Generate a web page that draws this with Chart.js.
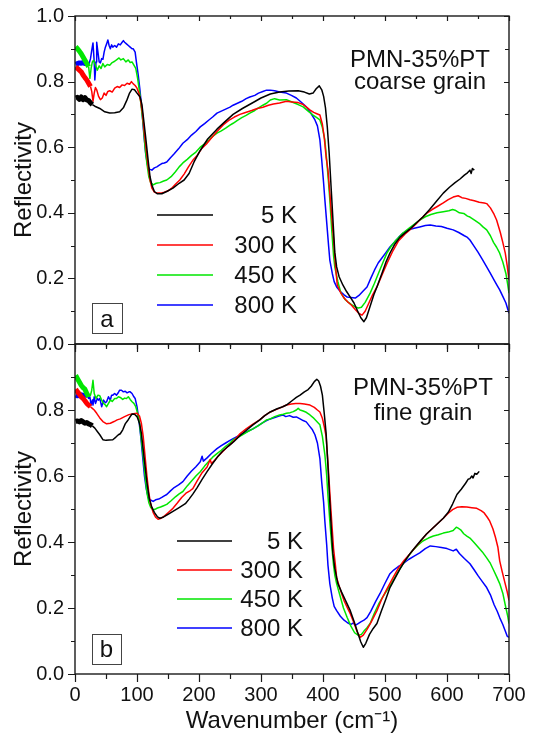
<!DOCTYPE html>
<html>
<head>
<meta charset="utf-8">
<script src="https://cdn.jsdelivr.net/npm/chart.js@4.4.1/dist/chart.umd.min.js"></script>
<style>
  html, body { margin: 0; padding: 0; background: #fff; }
  #wrap { position: relative; width: 540px; height: 743px; }
  #wrap canvas { position: absolute; left: 0; top: 0; }
</style>
</head>
<body>
<div id="wrap">
  <canvas id="coarse" width="540" height="743"></canvas>
  <canvas id="fine" width="540" height="743"></canvas>
</div>
<script>
// axis ticks
const xTicks = [0, 100, 200, 300, 400, 500, 600, 700];
const yTicks = [0, 0.2, 0.4, 0.6, 0.8, 1.0];
const seriesLabels = ['5 K', '300 K', '450 K', '800 K'];
const seriesColors = ['#000000', '#ff0000', '#00e600', '#0000ff'];
// wavenumber below which the trace is a dense noisy band
const headEnd = [28, 25, 22, 19];

// panel a: coarse grain, [wavenumber, reflectivity]
const coarse5K = [[1,0.75],[4,0.752],[7,0.746],[10,0.753],[13,0.745],[16,0.751],[19,0.744],[22,0.742],[25,0.735],[28,0.73],
  [32,0.725],[40,0.718],[48,0.708],[56,0.704],[64,0.705],[72,0.708],[78,0.72],[84,0.745],[88,0.765],[92,0.777],[96,0.775],
  [100,0.765],[105,0.753],[108,0.73],[111,0.68],[114,0.63],[118,0.56],[121,0.51],[124,0.485],[128,0.465],[133,0.458],[140,0.458],
  [148,0.465],[158,0.475],[168,0.49],[176,0.5],[184,0.52],[192,0.555],[202,0.59],[214,0.625],[229,0.655],[242,0.678],[255,0.7],
  [270,0.718],[288,0.737],[300,0.75],[315,0.762],[330,0.768],[345,0.771],[360,0.772],[370,0.768],[378,0.762],[384,0.765],
  [389,0.778],[394,0.787],[398,0.775],[401,0.755],[404,0.72],[407,0.66],[410,0.58],[413,0.48],[416,0.38],[419,0.28],[422,0.235],
  [426,0.205],[432,0.18],[438,0.16],[444,0.143],[450,0.125],[456,0.1],[461,0.08],[466,0.068],[470,0.08],[476,0.115],[482,0.15],
  [487,0.174],[495,0.215],[502,0.252],[508,0.277],[516,0.305],[524,0.325],[532,0.338],[540,0.35],[550,0.368],[561,0.387],
  [572,0.41],[583,0.435],[594,0.46],[604,0.478],[613,0.492],[621,0.503],[628,0.515],[633,0.522],[637,0.53],[639,0.52],[641,0.535],[644,0.53]];
const coarse300K = [[1,0.845],[4,0.84],[7,0.835],[10,0.83],[13,0.82],[16,0.812],[19,0.805],[22,0.795],[25,0.785],
  [27,0.77],[29,0.74],[31,0.765],[33,0.782],[35,0.775],[38,0.755],[41,0.745],[44,0.75],[47,0.765],[50,0.758],[53,0.77],[56,0.772],
  [60,0.768],[64,0.78],[68,0.785],[72,0.782],[76,0.79],[80,0.788],[84,0.795],[88,0.792],[91,0.8],[94,0.793],[97,0.788],[100,0.78],
  [103,0.765],[106,0.74],[109,0.7],[112,0.64],[115,0.59],[118,0.54],[121,0.5],[124,0.475],[128,0.463],[132,0.46],[138,0.46],
  [144,0.463],[150,0.467],[156,0.475],[162,0.487],[169,0.5],[176,0.518],[183,0.54],[190,0.56],[197,0.575],[204,0.595],[212,0.61],
  [220,0.628],[229,0.648],[239,0.668],[248,0.682],[257,0.692],[266,0.7],[275,0.706],[285,0.712],[294,0.718],[303,0.722],[312,0.728],
  [320,0.732],[330,0.735],[341,0.74],[350,0.738],[360,0.736],[368,0.73],[375,0.72],[380,0.712],[385,0.706],[390,0.702],[395,0.698],
  [399,0.67],[402,0.63],[405,0.57],[408,0.53],[411,0.46],[414,0.39],[417,0.32],[420,0.24],[423,0.18],[428,0.158],[434,0.14],
  [440,0.128],[446,0.118],[452,0.105],[458,0.093],[463,0.088],[468,0.1],[474,0.125],[480,0.15],[487,0.174],[495,0.21],[503,0.245],
  [513,0.285],[522,0.315],[532,0.335],[540,0.348],[550,0.366],[558,0.382],[567,0.398],[576,0.41],[585,0.42],[594,0.43],[602,0.44],
  [610,0.448],[618,0.452],[624,0.446],[630,0.444],[637,0.44],[644,0.437],[652,0.432],[660,0.43],[664,0.428],[670,0.415],[676,0.395],
  [680,0.378],[686,0.34],[690,0.31],[694,0.277],[697,0.24],[700,0.195]];
const coarse450K = [[1,0.906],[4,0.9],[7,0.893],[10,0.885],[13,0.875],[16,0.865],[19,0.855],[22,0.845],
  [24,0.81],[26,0.84],[28,0.86],[30,0.865],[33,0.85],[36,0.835],[39,0.848],[42,0.84],[45,0.855],[48,0.845],[52,0.852],[56,0.85],
  [60,0.858],[64,0.862],[68,0.868],[71,0.872],[74,0.866],[78,0.87],[82,0.86],[86,0.866],[89,0.858],[92,0.86],[95,0.85],[98,0.84],
  [101,0.81],[104,0.77],[107,0.72],[110,0.67],[113,0.6],[116,0.55],[119,0.51],[122,0.492],[126,0.485],[131,0.49],[137,0.492],
  [143,0.497],[148,0.5],[155,0.51],[162,0.525],[168,0.54],[174,0.552],[181,0.563],[188,0.575],[195,0.585],[202,0.6],[209,0.61],
  [216,0.622],[222,0.633],[229,0.643],[236,0.65],[243,0.658],[250,0.667],[255,0.673],[262,0.682],[269,0.69],[276,0.697],[282,0.704],
  [290,0.712],[296,0.72],[303,0.728],[309,0.734],[315,0.744],[322,0.748],[330,0.744],[341,0.745],[350,0.738],[360,0.73],[368,0.723],
  [376,0.71],[384,0.698],[390,0.69],[395,0.683],[399,0.66],[403,0.622],[406,0.56],[409,0.49],[411,0.44],[414,0.35],[417,0.27],
  [419,0.235],[424,0.19],[429,0.155],[436,0.135],[441,0.127],[446,0.12],[452,0.113],[457,0.11],[462,0.112],[468,0.127],[476,0.155],
  [483,0.185],[490,0.218],[497,0.25],[503,0.277],[510,0.298],[518,0.317],[529,0.338],[538,0.352],[547,0.365],[556,0.378],[565,0.388],
  [574,0.395],[584,0.4],[594,0.403],[603,0.406],[609,0.41],[613,0.408],[620,0.4],[627,0.398],[633,0.39],[637,0.387],[645,0.377],
  [652,0.368],[658,0.357],[664,0.348],[670,0.33],[675,0.31],[680,0.295],[685,0.277],[690,0.25],[695,0.215],[698,0.18],[700,0.155]];
const coarse800K = [[1,0.852],[4,0.855],[7,0.857],[10,0.856],[13,0.858],[16,0.855],[19,0.86],
  [22,0.85],[25,0.87],[27,0.895],[29,0.918],[31,0.86],[32,0.805],[34,0.86],[35,0.92],[37,0.89],[39,0.86],[41,0.857],[43,0.87],
  [45,0.868],[47,0.89],[49,0.905],[51,0.915],[53,0.927],[55,0.91],[57,0.9],[59,0.912],[61,0.905],[64,0.91],[67,0.905],[70,0.915],
  [73,0.912],[76,0.92],[78,0.925],[80,0.92],[83,0.915],[86,0.91],[89,0.905],[92,0.9],[94,0.9],[97,0.89],[99,0.86],[102,0.82],
  [105,0.77],[108,0.71],[111,0.64],[114,0.58],[117,0.545],[120,0.533],[124,0.53],[128,0.537],[132,0.54],[136,0.545],[140,0.55],
  [144,0.552],[148,0.555],[154,0.568],[160,0.58],[167,0.595],[174,0.612],[181,0.623],[188,0.637],[195,0.648],[202,0.662],[209,0.672],
  [216,0.683],[222,0.692],[229,0.704],[236,0.71],[243,0.716],[250,0.722],[255,0.728],[262,0.734],[269,0.74],[276,0.748],[282,0.753],
  [290,0.758],[296,0.765],[303,0.77],[309,0.774],[315,0.774],[322,0.772],[330,0.768],[341,0.765],[349,0.758],[357,0.75],[365,0.737],
  [373,0.723],[380,0.705],[387,0.683],[391,0.665],[395,0.622],[398,0.56],[401,0.49],[403,0.44],[406,0.37],[409,0.3],[411,0.256],
  [415,0.215],[418,0.19],[422,0.174],[428,0.16],[434,0.15],[439,0.143],[445,0.142],[452,0.14],[458,0.148],[464,0.16],[471,0.174],
  [477,0.2],[483,0.225],[489,0.247],[495,0.262],[502,0.28],[508,0.296],[515,0.31],[522,0.325],[529,0.338],[538,0.348],[547,0.353],
  [556,0.357],[565,0.361],[573,0.363],[582,0.36],[591,0.358],[600,0.353],[610,0.348],[619,0.34],[628,0.33],[633,0.325],[637,0.317],
  [643,0.3],[650,0.28],[657,0.258],[664,0.235],[670,0.215],[676,0.195],[681,0.178],[685,0.165],[690,0.145],[695,0.125],[700,0.094]];

// panel b: fine grain
const fine5K = [[1,0.765],[4,0.767],[7,0.764],[10,0.768],[13,0.764],[16,0.76],[19,0.762],[22,0.758],[25,0.756],[28,0.752],
  [32,0.745],[36,0.735],[40,0.725],[45,0.71],[50,0.708],[55,0.709],[61,0.71],[66,0.718],[70,0.725],[73,0.728],[77,0.74],[81,0.758],
  [85,0.768],[89,0.78],[92,0.788],[96,0.787],[100,0.78],[104,0.76],[107,0.73],[110,0.68],[113,0.63],[116,0.58],[120,0.53],[124,0.505],
  [128,0.49],[133,0.476],[137,0.472],[143,0.476],[150,0.484],[158,0.493],[166,0.502],[173,0.51],[178,0.516],[184,0.53],[190,0.545],
  [197,0.565],[205,0.59],[213,0.613],[222,0.638],[230,0.658],[238,0.675],[247,0.69],[256,0.704],[266,0.722],[276,0.738],[287,0.755],
  [298,0.77],[306,0.783],[315,0.794],[325,0.803],[335,0.81],[341,0.815],[350,0.828],[357,0.838],[363,0.845],[370,0.855],[376,0.862],
  [381,0.872],[386,0.886],[390,0.893],[393,0.888],[396,0.872],[399,0.845],[402,0.79],[405,0.73],[408,0.63],[411,0.52],[414,0.42],
  [416,0.364],[419,0.32],[424,0.274],[430,0.248],[437,0.22],[444,0.192],[450,0.16],[456,0.125],[461,0.097],[465,0.081],[469,0.093],
  [475,0.12],[481,0.138],[487,0.153],[494,0.19],[501,0.225],[508,0.262],[516,0.29],[524,0.318],[532,0.342],[540,0.364],[549,0.385],
  [558,0.405],[567,0.424],[576,0.44],[585,0.456],[594,0.472],[602,0.49],[609,0.515],[616,0.544],[623,0.56],[630,0.578],[634,0.59],
  [637,0.592],[640,0.6],[642,0.594],[645,0.608],[648,0.605],[652,0.614]];
const fine300K = [[1,0.863],[4,0.855],[7,0.848],[10,0.84],[13,0.835],[16,0.828],[19,0.82],[22,0.815],[25,0.81],
  [28,0.805],[31,0.8],[35,0.79],[40,0.776],[45,0.765],[51,0.758],[57,0.76],[63,0.765],[68,0.77],[73,0.773],[80,0.78],[87,0.786],
  [94,0.789],[100,0.79],[104,0.782],[107,0.76],[110,0.72],[113,0.66],[116,0.6],[119,0.55],[122,0.515],[126,0.49],[130,0.475],
  [134,0.469],[139,0.472],[145,0.48],[151,0.49],[158,0.502],[165,0.518],[172,0.535],[179,0.548],[186,0.556],[190,0.562],[197,0.585],
  [205,0.61],[213,0.627],[218,0.65],[220,0.638],[224,0.645],[230,0.658],[236,0.67],[244,0.685],[252,0.698],[259,0.712],[266,0.728],
  [276,0.743],[287,0.757],[298,0.77],[306,0.783],[315,0.794],[325,0.802],[333,0.808],[341,0.815],[349,0.818],[356,0.82],[363,0.82],
  [370,0.818],[379,0.815],[386,0.808],[391,0.8],[395,0.794],[399,0.775],[402,0.75],[405,0.72],[408,0.64],[411,0.55],[414,0.463],
  [417,0.38],[420,0.33],[422,0.292],[428,0.255],[434,0.222],[440,0.198],[444,0.183],[450,0.155],[455,0.128],[460,0.111],[465,0.118],
  [471,0.135],[477,0.155],[487,0.192],[495,0.228],[503,0.257],[513,0.292],[522,0.322],[531,0.345],[540,0.364],[549,0.384],[558,0.404],
  [567,0.424],[576,0.44],[585,0.456],[594,0.472],[602,0.487],[609,0.498],[616,0.505],[624,0.507],[632,0.506],[640,0.504],[648,0.502],
  [655,0.495],[660,0.488],[665,0.475],[669,0.463],[674,0.44],[678,0.415],[682,0.385],[685,0.343],[689,0.31],[693,0.28],[697,0.25],[700,0.223]];
const fine450K = [[1,0.905],[4,0.895],[7,0.885],[10,0.875],[13,0.868],[16,0.863],
  [19,0.85],[22,0.84],[25,0.845],[27,0.86],[29,0.89],[31,0.85],[34,0.835],[37,0.845],[40,0.843],[43,0.83],[46,0.82],[49,0.815],
  [51,0.81],[54,0.82],[57,0.83],[60,0.826],[64,0.835],[67,0.835],[70,0.84],[73,0.838],[77,0.832],[80,0.836],[83,0.835],[86,0.84],
  [89,0.832],[92,0.825],[95,0.82],[98,0.81],[101,0.79],[104,0.76],[107,0.71],[110,0.66],[113,0.6],[116,0.55],[119,0.52],[122,0.505],
  [126,0.498],[129,0.499],[133,0.503],[138,0.506],[143,0.51],[148,0.514],[155,0.525],[162,0.537],[168,0.546],[174,0.553],[181,0.57],
  [188,0.585],[195,0.6],[202,0.613],[209,0.63],[216,0.645],[222,0.657],[229,0.668],[236,0.678],[243,0.69],[250,0.7],[255,0.71],
  [262,0.716],[270,0.725],[278,0.734],[287,0.743],[295,0.752],[303,0.762],[309,0.77],[315,0.773],[322,0.78],[330,0.785],[336,0.787],
  [341,0.79],[347,0.792],[352,0.795],[357,0.8],[360,0.805],[363,0.8],[368,0.797],[373,0.793],[379,0.785],[384,0.777],[390,0.765],
  [395,0.755],[399,0.72],[403,0.665],[406,0.6],[408,0.54],[411,0.463],[414,0.39],[417,0.33],[419,0.3],[422,0.274],[427,0.24],
  [433,0.2],[439,0.171],[445,0.145],[451,0.125],[457,0.117],[462,0.12],[466,0.13],[471,0.14],[476,0.153],[483,0.185],[490,0.213],
  [497,0.235],[503,0.253],[510,0.273],[518,0.3],[529,0.334],[537,0.355],[545,0.375],[553,0.39],[561,0.403],[570,0.412],[578,0.418],
  [586,0.422],[594,0.427],[602,0.43],[610,0.435],[615,0.445],[618,0.442],[622,0.437],[627,0.425],[632,0.418],[637,0.412],[644,0.398],
  [650,0.385],[657,0.37],[664,0.352],[670,0.335],[675,0.315],[680,0.295],[685,0.274],[690,0.245],[695,0.2],[698,0.175],[700,0.153]];
const fine800K = [[1,0.845],[4,0.843],[7,0.845],[10,0.846],[13,0.844],[16,0.845],[19,0.845],
  [22,0.835],[24,0.84],[26,0.815],[28,0.83],[29,0.815],[31,0.84],[33,0.82],[36,0.835],[38,0.83],[40,0.835],[43,0.81],[46,0.83],
  [49,0.822],[51,0.825],[54,0.84],[57,0.83],[59,0.845],[61,0.845],[64,0.85],[67,0.845],[70,0.853],[72,0.86],[75,0.86],[78,0.855],
  [81,0.857],[84,0.852],[87,0.855],[89,0.855],[92,0.85],[95,0.84],[97,0.835],[100,0.81],[103,0.77],[106,0.72],[109,0.66],[112,0.6],
  [115,0.56],[118,0.535],[121,0.528],[126,0.523],[130,0.528],[135,0.53],[140,0.535],[144,0.54],[148,0.544],[154,0.555],[160,0.565],
  [167,0.573],[174,0.583],[181,0.6],[188,0.615],[195,0.628],[202,0.643],[205,0.66],[207,0.645],[213,0.655],[220,0.668],[229,0.683],
  [236,0.692],[243,0.7],[250,0.708],[255,0.713],[262,0.72],[270,0.728],[278,0.735],[287,0.743],[295,0.752],[303,0.762],[309,0.768],
  [315,0.773],[322,0.777],[329,0.782],[335,0.785],[340,0.78],[346,0.783],[352,0.778],[357,0.779],[363,0.773],[368,0.768],[373,0.764],
  [378,0.752],[383,0.74],[387,0.725],[391,0.7],[395,0.653],[398,0.58],[401,0.52],[403,0.463],[406,0.39],[408,0.33],[411,0.274],
  [415,0.23],[418,0.205],[422,0.192],[428,0.175],[434,0.163],[439,0.156],[445,0.15],[449,0.155],[452,0.147],[456,0.152],[461,0.158],
  [466,0.163],[471,0.171],[477,0.19],[485,0.22],[492,0.244],[500,0.275],[508,0.304],[514,0.315],[521,0.325],[529,0.334],[538,0.347],
  [547,0.357],[556,0.367],[565,0.38],[573,0.388],[582,0.386],[591,0.383],[600,0.38],[610,0.373],[615,0.378],[620,0.365],[628,0.35],
  [637,0.334],[644,0.315],[650,0.298],[657,0.28],[664,0.262],[670,0.24],[676,0.21],[681,0.19],[685,0.171],[690,0.15],[694,0.13],
  [697,0.115],[700,0.111]];

const FONT = "'Liberation Sans', Arial, sans-serif";
Chart.defaults.font.family = FONT;
Chart.defaults.color = '#111';

// frame, tick marks (out on left/bottom, in on top/right), legend, note and panel tag
const panelDecor = {
  id: 'panelDecor',
  afterDraw(chart, args, o) {
    const {ctx, chartArea: a, scales: {x, y}} = chart;
    ctx.save();
    ctx.strokeStyle = '#1a1a1a';
    ctx.lineWidth = 1.4;
    ctx.strokeRect(a.left, a.top, a.width, a.height);

    ctx.lineWidth = 1.2;
    ctx.beginPath();
    xTicks.forEach((v, i) => {
      const marks = [[v, true]];
      if (i < xTicks.length - 1) marks.push([(v + xTicks[i + 1]) / 2, false]);
      marks.forEach(([t, major]) => {
        const px = Math.round(x.getPixelForValue(t)) + 0.5;
        ctx.moveTo(px, a.bottom); ctx.lineTo(px, a.bottom + (major ? 8 : 5));
        ctx.moveTo(px, a.top); ctx.lineTo(px, a.top + (major ? 5 : 3));
      });
    });
    yTicks.forEach((v, i) => {
      const marks = [[v, true]];
      if (i < yTicks.length - 1) marks.push([(v + yTicks[i + 1]) / 2, false]);
      marks.forEach(([t, major]) => {
        const py = Math.round(y.getPixelForValue(t)) + 0.5;
        ctx.moveTo(a.left, py); ctx.lineTo(a.left - (major ? 7 : 4), py);
        ctx.moveTo(a.right, py); ctx.lineTo(a.right - (major ? 5 : 4), py);
      });
    });
    ctx.stroke();

    // legend
    ctx.font = '24px ' + FONT;
    ctx.fillStyle = '#111';
    ctx.textAlign = 'right';
    ctx.textBaseline = 'alphabetic';
    seriesLabels.forEach((lab, i) => {
      const ly = o.legendTop + i * o.legendStep;
      ctx.strokeStyle = seriesColors[i];
      ctx.lineWidth = 1.6;
      ctx.beginPath();
      ctx.moveTo(o.legendLine[0], ly);
      ctx.lineTo(o.legendLine[1], ly);
      ctx.stroke();
      ctx.fillText(lab, o.legendText, ly + 8);
    });

    // sample note
    ctx.textAlign = 'center';
    o.note.forEach((t, i) => ctx.fillText(t, o.noteX, o.noteY[i]));

    // panel tag
    const [bx, by, bw, bh] = o.tagBox;
    ctx.strokeStyle = '#444';
    ctx.lineWidth = 1;
    ctx.strokeRect(bx + 0.5, by + 0.5, bw, bh);
    ctx.fillText(o.tag, bx + bw / 2, o.tagBase);
    ctx.restore();
  }
};

function buildDatasets(series) {
  return series.map((pts, i) => ({
    label: seriesLabels[i],
    data: pts.map(([wn, r]) => ({x: wn, y: r})),
    borderColor: seriesColors[i],
    borderWidth: 1.5,
    pointRadius: 0,
    tension: 0,
    borderJoinStyle: 'round',
    segment: {
      borderWidth: ctx => ctx.p1.parsed.x <= headEnd[i] ? 5 : 1.5
    }
  }));
}

function renderPanel(canvasId, series, cfg) {
  const ctx = document.getElementById(canvasId).getContext('2d');
  return new Chart(ctx, {
    type: 'line',
    plugins: [panelDecor],
    data: { datasets: buildDatasets(series) },
    options: {
      responsive: false,
      animation: false,
      layout: { padding: { top: cfg.top, right: 31, left: 0, bottom: 0 } },
      plugins: {
        legend: { display: false },
        tooltip: { enabled: false },
        panelDecor: cfg.decor
      },
      scales: {
        x: {
          type: 'linear',
          min: 0,
          max: 700,
          grid: { display: false, drawTicks: true, tickLength: 8 },
          border: { display: false },
          afterBuildTicks: s => { s.ticks = xTicks.map(v => ({value: v})); },
          afterFit: s => { s.height = cfg.xHeight; },
          ticks: {
            display: cfg.showX,
            padding: 1,
            maxRotation: 0,
            font: { size: 20 }
          },
          title: {
            display: cfg.showX,
            text: 'Wavenumber (cm\u207B\u00B9)',
            padding: { top: 0, bottom: 7 },
            font: { size: 24 }
          }
        },
        y: {
          min: 0,
          max: 1,
          grid: { display: false, drawTicks: true, tickLength: 8 },
          border: { display: false },
          afterBuildTicks: s => { s.ticks = yTicks.map(v => ({value: v})); },
          afterFit: s => { s.width = 75; },
          ticks: {
            padding: 3,
            font: { size: 20 },
            callback: v => (cfg.hideTop && v > 0.99) ? '' : v.toFixed(1)
          },
          title: {
            display: true,
            text: 'Reflectivity',
            padding: { top: 10, bottom: 0 },
            font: { size: 24 }
          }
        }
      }
    }
  });
}

renderPanel('coarse', [coarse5K, coarse300K, coarse450K, coarse800K], {
  top: 16, xHeight: 743 - 344, showX: false, hideTop: false,
  decor: {
    legendLine: [157, 213], legendText: 297, legendTop: 215, legendStep: 30,
    note: ['PMN-35%PT', 'coarse grain'], noteX: 420, noteY: [67, 89],
    tag: 'a', tagBox: [92, 303, 30, 30], tagBase: 327
  }
});

renderPanel('fine', [fine5K, fine300K, fine450K, fine800K], {
  top: 344, xHeight: 743 - 674, showX: true, hideTop: true,
  decor: {
    legendLine: [177, 232], legendText: 303, legendTop: 541, legendStep: 29,
    note: ['PMN-35%PT', 'fine grain'], noteX: 423, noteY: [395, 420],
    tag: 'b', tagBox: [92, 634, 29, 30], tagBase: 657
  }
});
</script>
</body>
</html>
